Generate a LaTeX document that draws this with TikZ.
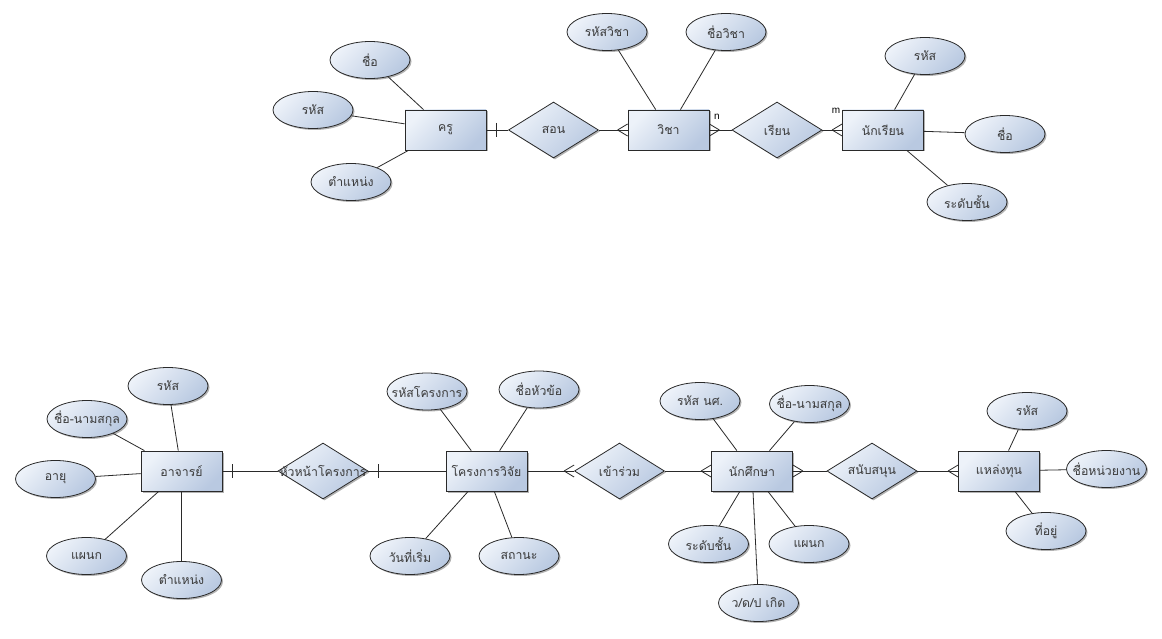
\documentclass[tikz,border=0pt]{standalone}
\usepackage{fontspec}
\newfontfamily\thaifont[Script=Thai]{Loma}
\newfontfamily\latinsans{Liberation Sans}
\usetikzlibrary{shapes.geometric,shadows}
\definecolor{fillA}{HTML}{EDF2F9}
\definecolor{fillB}{HTML}{B9C9E1}
\definecolor{edgec}{HTML}{2A2A2A}
\definecolor{txt}{HTML}{3A3A3A}
\tikzset{
  base/.style={draw=edgec, line width=0.8pt, top color=fillA, bottom color=fillB, shading angle=45,
    drop shadow={shadow xshift=1.5pt, shadow yshift=-1.5pt, fill=black, opacity=0.3},
    text=txt, font=\thaifont\fontsize{12.3}{14}\selectfont, inner sep=0pt},
  entity/.style={base, rectangle, minimum width=81pt, minimum height=40pt},
  attr/.style={base, ellipse, minimum width=80pt, minimum height=37pt},
  rel/.style={base, diamond, minimum width=90pt, minimum height=56pt},
  link/.style={draw=edgec, line width=0.8pt},
  card/.style={font=\latinsans\fontsize{10}{10}\selectfont, text=black, inner sep=0pt},
  crowL/.pic={\draw[link] (-10,0) -- (0,-6) (-10,0) -- (0,6);},
  crowR/.pic={\draw[link] (10,0) -- (0,-6) (10,0) -- (0,6);},
  barV/.pic={\draw[link] (0,-7) -- (0,7);},
}
\newcommand{\tx}[1]{\makebox[0pt]{#1}}
\begin{document}
\begin{tikzpicture}[x=1pt,y=-1pt]
\useasboundingbox[fill=white] (0,0) rectangle (1162,639);
% ---------- top diagram ----------
\node[entity] (kru) at (445.5,130) {\tx{ครู}};
\node[attr] (a1) at (370,60) {\tx{ชื่อ}};
\node[attr] (a2) at (313,110) {\tx{รหัส}};
\node[attr] (a3) at (351,182) {\tx{ตำแหน่ง}};
\node[rel] (son) at (553.5,130) {\tx{สอน}};
\node[entity] (wicha) at (668.5,130) {\tx{วิชา}};
\node[attr] (b1) at (607,32) {\tx{รหัสวิชา}};
\node[attr] (b2) at (726,32) {\tx{ชื่อวิชา}};
\node[rel] (rian) at (777,130) {\tx{เรียน}};
\node[entity] (nakrian) at (883,130) {\tx{นักเรียน}};
\node[attr] (c1) at (925,56) {\tx{รหัส}};
\node[attr] (c2) at (1005,134) {\tx{ชื่อ}};
\node[attr] (c3) at (967,202) {\tx{ระดับชั้น}};
\node[card] (ln) at (717,117) {n};
\node[card] (lm) at (836,111) {m};
\foreach \a in {a1,a2,a3} \draw[link] (\a) -- (kru);
\foreach \a in {b1,b2} \draw[link] (\a) -- (wicha);
\foreach \a in {c1,c2,c3} \draw[link] (\a) -- (nakrian);
\draw[link] (kru) -- (son);
\draw[link] (son) -- (wicha);
\draw[link] (wicha) -- (rian);
\draw[link] (rian) -- (nakrian);
\pic at ([xshift=10pt]kru.east) {barV};
\pic at (wicha.west) {crowL};
\pic at (wicha.east) {crowR};
\pic at (nakrian.west) {crowL};
% ---------- bottom diagram ----------
\node[entity] (ajarn) at (181.5,471) {\tx{อาจารย์}};
\node[attr] (d1) at (168,386) {\tx{รหัส}};
\node[attr] (d2) at (87,419) {\tx{ชื่อ-นามสกุล}};
\node[attr] (d3) at (55.5,479) {\tx{อายุ}};
\node[attr] (d4) at (86.5,556) {\tx{แผนก}};
\node[attr] (d5) at (181.5,580) {\tx{ตำแหน่ง}};
\node[rel] (hua) at (323,471) {\tx{หัวหน้าโครงการ}};
\node[entity] (proj) at (486.5,471) {\tx{โครงการวิจัย}};
\node[attr] (e1) at (427,391.5) {\tx{รหัสโครงการ}};
\node[attr] (e2) at (539,389.5) {\tx{ชื่อหัวข้อ}};
\node[attr] (e3) at (410,556) {\tx{วันที่เริ่ม}};
\node[attr] (e4) at (519,556) {\tx{สถานะ}};
\node[rel] (kao) at (619.5,471) {\tx{เข้าร่วม}};
\node[entity] (nak) at (752,471) {\tx{นักศึกษา}};
\node[attr] (f1) at (700,401) {\tx{รหัส นศ.}};
\node[attr] (f2) at (809.5,404) {\tx{ชื่อ-นามสกุล}};
\node[attr] (f3) at (708.5,544) {\tx{ระดับชั้น}};
\node[attr] (f4) at (809,544) {\tx{แผนก}};
\node[attr] (f5) at (758.5,603) {\tx{ว/ด/ป เกิด}};
\node[rel] (sanup) at (872,471) {\tx{สนับสนุน}};
\node[entity] (laeng) at (999,471) {\tx{แหล่งทุน}};
\node[attr] (g1) at (1027,411) {\tx{รหัส}};
\node[attr] (g2) at (1106.5,469) {\tx{ชื่อหน่วยงาน}};
\node[attr] (g3) at (1046,531) {\tx{ที่อยู่}};
\foreach \a in {d1,d2,d3,d4,d5} \draw[link] (\a) -- (ajarn);
\foreach \a in {e1,e2,e3,e4} \draw[link] (\a) -- (proj);
\foreach \a in {f1,f2,f3,f4,f5} \draw[link] (\a) -- (nak);
\foreach \a in {g1,g2,g3} \draw[link] (\a) -- (laeng);
\draw[link] (ajarn) -- (hua);
\draw[link] (hua) -- (proj);
\draw[link] (proj) -- (kao);
\draw[link] (kao) -- (nak);
\draw[link] (nak) -- (sanup);
\draw[link] (sanup) -- (laeng);
\pic at ([xshift=10pt]ajarn.east) {barV};
\pic at ([xshift=10pt]hua.east) {barV};
\pic at (kao.west) {crowL};
\pic at (nak.west) {crowL};
\pic at (nak.east) {crowR};
\pic at (laeng.west) {crowL};
\end{tikzpicture}
\end{document}
